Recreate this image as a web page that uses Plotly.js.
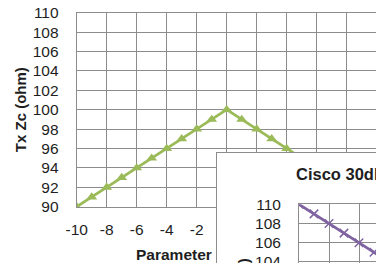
<!DOCTYPE html>
<html><head><meta charset="utf-8">
<script src="https://cdn.plot.ly/plotly-3.0.1.min.js"></script>
<style>html,body{margin:0;padding:0;overflow:hidden;background:#fff;width:376px;height:263px}#chart{width:620px;height:480px}</style>
</head><body><div id="chart"></div>
<script>
// Data
const params = [-10,-9,-8,-7,-6,-5,-4,-3,-2,-1,0,1,2,3,4,5,6,7,8,9,10];
const txZcMain = [90,91,92,93,94,95,96,97,98,99,100,99,98,97,96,95,94,93,92,91,90];
const txZcCisco = [110,109,108,107,106,105,104,103,102,101,100,101,102,103,104,105,106,107,108,109,110];
const xTickVals = [-10,-8,-6,-4,-2,0,2,4,6,8,10];
const xTickText = ['-10','-8','-6','-4','-2','0','2','4','6','8','10'];
const yTickVals = [90,92,94,96,98,100,102,104,106,108,110];
const yTickText = ['90','92','94','96','98','100','102','104','106','108','110'];
const xTitle = 'Parameter';
const yTitle = 'Tx Zc (ohm)';
const insetTitle = 'Cisco 30dB';

const W = 620, H = 480;
const px = v => v / W;
const py = v => 1 - v / H;
const FONT = 'Liberation Sans, Arial, sans-serif';
const GRID = '#8c8c8c';
const TXT = '#1e1e1e';

const axBase = {
  showgrid: true, gridcolor: GRID, gridwidth: 1,
  showline: true, mirror: true, linecolor: GRID, linewidth: 1,
  zeroline: false, ticks: '', fixedrange: true,
  tickfont: {family: FONT, size: 15.5, color: TXT}
};

const traces = [
  {x: params, y: txZcMain, type: 'scatter', mode: 'lines+markers', xaxis: 'x', yaxis: 'y',
   line: {color: '#9BBB59', width: 2.75},
   marker: {symbol: 'triangle-up', size: 9.5, color: '#9BBB59'}, hoverinfo: 'skip'},
  {x: [], y: [], type: 'scatter', mode: 'lines', xaxis: 'x2', yaxis: 'y2', hoverinfo: 'skip'},
  {x: params, y: txZcCisco, type: 'scatter', mode: 'lines+markers', xaxis: 'x3', yaxis: 'y3',
   line: {color: '#8064A2', width: 2.75},
   marker: {symbol: 'x-thin-open', size: 8.5, color: '#8064A2', line: {color: '#8064A2', width: 1.5}}, hoverinfo: 'skip'}
];

const layout = {
  width: W, height: H,
  margin: {l: 0, r: 0, t: 0, b: 0, pad: 0},
  paper_bgcolor: '#fff', plot_bgcolor: '#fff',
  showlegend: false,
  font: {family: FONT, color: TXT},
  xaxis: Object.assign({}, axBase, {domain: [px(76.7), px(376.7)], range: [-10, 10], anchor: 'y',
    tickvals: xTickVals, ticktext: xTickText, ticklabelstandoff: 9}),
  yaxis: Object.assign({}, axBase, {domain: [py(206.7), py(12.7)], range: [90, 110], anchor: 'x',
    tickvals: yTickVals, ticktext: yTickText, ticklabelstandoff: 14}),
  xaxis2: {domain: [px(217), px(612)], range: [0, 1], anchor: 'y2', showgrid: false, zeroline: false,
    showticklabels: false, ticks: '', showline: true, mirror: true, linecolor: GRID, linewidth: 1, fixedrange: true},
  yaxis2: {domain: [py(472), py(153)], range: [0, 1], anchor: 'x2', showgrid: false, zeroline: false,
    showticklabels: false, ticks: '', showline: true, mirror: true, linecolor: GRID, linewidth: 1, fixedrange: true},
  xaxis3: Object.assign({}, axBase, {domain: [px(299), px(599)], range: [-10, 10], anchor: 'y3',
    tickvals: xTickVals, ticktext: xTickText, ticklabelstandoff: 9}),
  yaxis3: Object.assign({}, axBase, {domain: [py(396.3), py(204.3)], range: [90, 110], anchor: 'x3',
    tickvals: yTickVals, ticktext: yTickText, ticklabelstandoff: 14}),
  annotations: [
    {text: '<b>' + yTitle + '</b>', xref: 'paper', yref: 'paper', x: px(20.5), y: py(109.7),
     xanchor: 'center', yanchor: 'middle', textangle: -90, showarrow: false,
     font: {family: FONT, size: 15, color: TXT}},
    {text: '<b>' + xTitle + '</b>', xref: 'paper', yref: 'paper', x: px(173.5), y: py(254.5),
     xanchor: 'center', yanchor: 'middle', showarrow: false,
     font: {family: FONT, size: 15.5, color: TXT}},
    {text: '<b>' + yTitle + '</b>', xref: 'paper', yref: 'paper', x: px(243), y: py(300.3),
     xanchor: 'center', yanchor: 'middle', textangle: -90, showarrow: false,
     font: {family: FONT, size: 15, color: TXT}},
    {text: '<b>' + insetTitle + '</b>', xref: 'paper', yref: 'paper', x: px(294), y: py(174),
     xanchor: 'left', yanchor: 'middle', showarrow: false,
     font: {family: FONT, size: 16.5, color: TXT}}
  ]
};

Plotly.newPlot('chart', traces, layout, {staticPlot: true, displayModeBar: false});
</script>
</body></html>
